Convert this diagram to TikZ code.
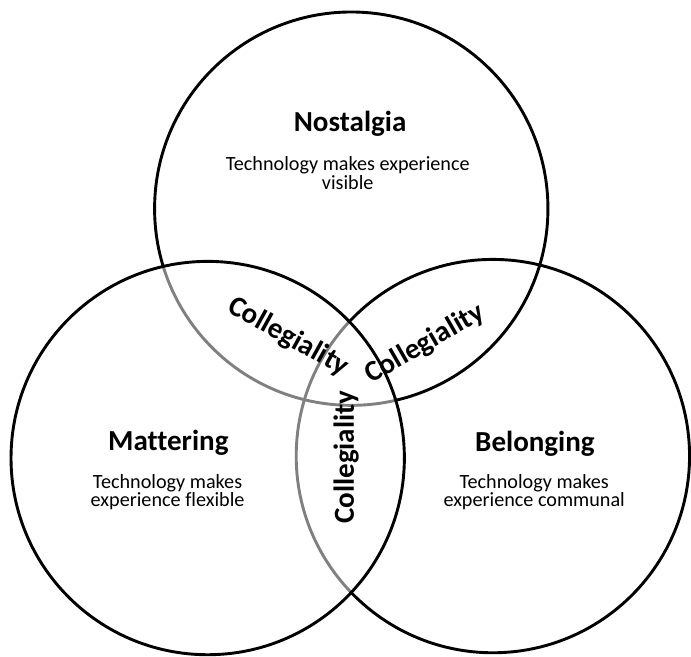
\documentclass[tikz,border=0pt]{standalone}
\usepackage{fontspec}
\setmainfont{Carlito}[Ligatures=NoCommon]
\usepackage{tikz}
\tikzset{
    ring/.style={black, line width=2.1pt},
    veil/.style={fill=white, fill opacity=0.5},
    heading/.style={font=\fontsize{21}{24}\selectfont\bfseries, inner sep=0pt, anchor=base},
    blurb/.style={font=\fontsize{14.6}{13.4}\selectfont, align=center, inner sep=0pt, anchor=north},
    overlap/.style={font=\fontsize{21}{24}\selectfont\bfseries, inner sep=0pt},
}

\begin{document}
\begin{tikzpicture}
        % circle centres, radius 5
        \coordinate (N) at (8.93,11.22);
        \coordinate (M) at (5.28,4.88);
        \coordinate (B) at (12.53,4.93);
        \draw[ring] (N) circle (5);
        \draw[ring] (B) circle (5);
        % the left circle sits on top and greys out the lines beneath it
        \fill[veil] (M) circle (5);
        \draw[ring] (M) circle (5);
        \node[heading] (nostalgia) at (8.9,13.18) {Nostalgia};
        \node[blurb] (nostalgiaText) at (8.84,12.55) {Technology makes experience\\visible};
        \node[heading] (mattering) at (4.28,5.07) {Mattering};
        \node[blurb] (matteringText) at (4.26,4.47) {Technology makes\\experience flexible};
        \node[heading] (belonging) at (13.6,5.05) {Belonging};
        \node[blurb] (belongingText) at (13.58,4.47) {Technology makes\\experience communal};
        \node[overlap, rotate=-29] (collegialityNM) at (7.33,7.96) {Collegiality};
        \node[overlap, rotate=30] (collegialityNB) at (10.8,7.78) {Collegiality};
        \node[overlap, rotate=90] (collegialityMB) at (8.8,4.9) {Collegiality};
        \useasboundingbox (0,0) rectangle (17.275,16.525);
    \end{tikzpicture}
\end{document}
